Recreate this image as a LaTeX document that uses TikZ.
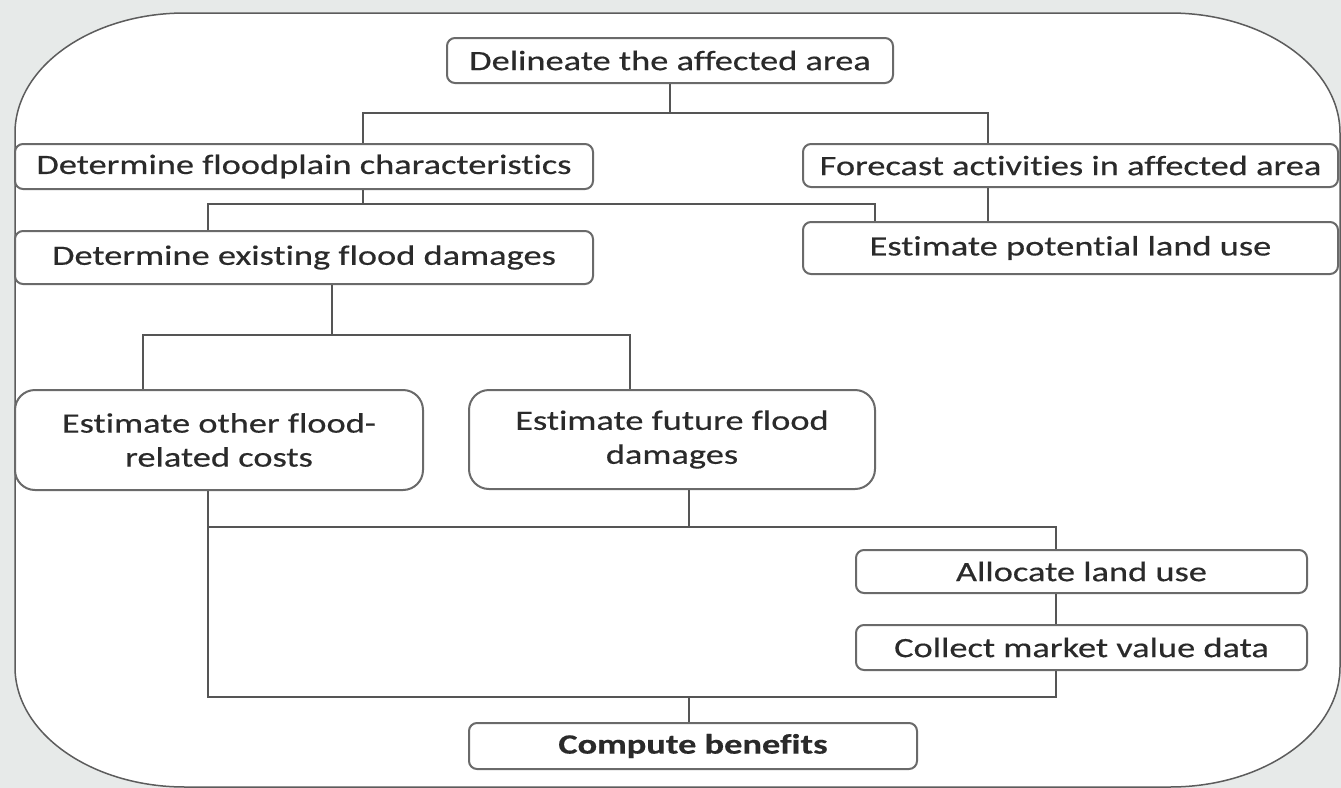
\documentclass[tikz,border=0pt]{standalone}
\usepackage{fontspec}
\setmainfont{Carlito}[FakeStretch=1.3, FakeBold=0.4, Ligatures=NoCommon]
\usetikzlibrary{positioning}

\definecolor{bggray}{HTML}{E7EAE9}
\definecolor{framegray}{HTML}{5C5C5C}
\definecolor{boxgray}{HTML}{6A6A6A}
\definecolor{linegray}{HTML}{555555}
\definecolor{txtgray}{HTML}{2A2A2A}

\begin{document}
\begin{tikzpicture}[x=0.5pt, y=-0.5pt,
    task/.style={rectangle, draw=boxgray, line width=1pt, rounded corners=4pt,
                 fill=white, inner sep=0pt, align=center, text=txtgray,
                 font=\fontsize{14}{17}\selectfont},
    bigtask/.style={task, rounded corners=10pt},
    link/.style={draw=linegray, line width=1pt},
]
    \useasboundingbox (0,0) rectangle (1341,788);
    \fill[bggray] (0,0) rectangle (1341,788);

    % --- outer frame ---
    \draw[framegray, fill=white, line width=0.75pt]
        (15,133) .. controls (15,67) and (91,13) .. (185,13) -- (1170,13)
        .. controls (1264,13) and (1340,67) .. (1340,133) -- (1340,667)
        .. controls (1340,733) and (1264,787) .. (1170,787) -- (185,787)
        .. controls (91,787) and (15,733) .. (15,667) -- cycle;

    % --- tasks ---
    \node[task, minimum width=223pt, minimum height=22.5pt] (del) at (670,60.5)
        {Delineate the affected area};
    \node[task, minimum width=289pt, minimum height=22.5pt] (flood) at (304,166.5)
        {Determine floodplain characteristics};
    \node[task, minimum width=267.5pt, minimum height=21.5pt] (fore) at (1070.5,165.5)
        {Forecast activities in affected area};
    \node[task, minimum width=289pt, minimum height=26.5pt] (exist) [below=20pt of flood]
        {Determine existing flood damages};
    \node[task, minimum width=267.5pt, minimum height=26pt] (pot) [below=16.5pt of fore]
        {Estimate potential land use};

    \node[bigtask, minimum width=204pt, minimum height=50pt] (other) at (219,440)
        {Estimate other flood-\\related costs};
    \node[bigtask, minimum width=203pt, minimum height=49.5pt] (future) at (672,439.5)
        {Estimate future flood\\damages};

    \node[task, minimum width=225.5pt, minimum height=21.5pt] (alloc) at (1081.5,571.5)
        {Allocate land use};
    \node[task, minimum width=225.5pt, minimum height=22.5pt] (collect) [below=15pt of alloc]
        {Collect market value data};
    \node[task, minimum width=224pt, minimum height=23pt, font=\fontsize{14}{17}\selectfont\bfseries]
        (comp) at (693,746) {Compute benefits};

    % --- first split ---
    \coordinate (a1) at (363,113);
    \coordinate (a2) at (988,113);
    \draw[link] (del.south) -- (del.south |- a1);
    \draw[link] (flood.north -| a1) -- (a1) -- (a2) -- (fore.north -| a2);

    % --- second split ---
    \coordinate (b1) at (208,204);
    \coordinate (b2) at (875,204);
    \draw[link] (flood.south -| a1) -- (a1 |- b1);
    \draw[link] (exist.north -| b1) -- (b1) -- (b2) -- (pot.north -| b2);
    \draw[link] (fore.south -| a2) -- (pot.north -| a2);

    % --- third split ---
    \coordinate (c0) at (332,335);
    \coordinate (c1) at (143,335);
    \coordinate (c2) at (630,335);
    \draw[link] (exist.south -| c0) -- (c0);
    \draw[link] (other.north -| c1) -- (c1) -- (c2) -- (future.north -| c2);

    % --- merge into benefits ---
    \coordinate (d0) at (689,527);
    \coordinate (d1) at (208,527);
    \coordinate (d2) at (1056,527);
    \coordinate (e1) at (208,697);
    \coordinate (e2) at (1056,697);
    \draw[link] (future.south -| d0) -- (d0);
    \draw[link] (other.south -| d1) -- (e1) -- (e2) -- (collect.south -| e2);
    \draw[link] (d1) -- (d2) -- (alloc.north -| d2);
    \draw[link] (alloc.south -| d2) -- (collect.north -| d2);
    \draw[link] (comp.north -| d0) -- (e1 -| d0);
\end{tikzpicture}
\end{document}
